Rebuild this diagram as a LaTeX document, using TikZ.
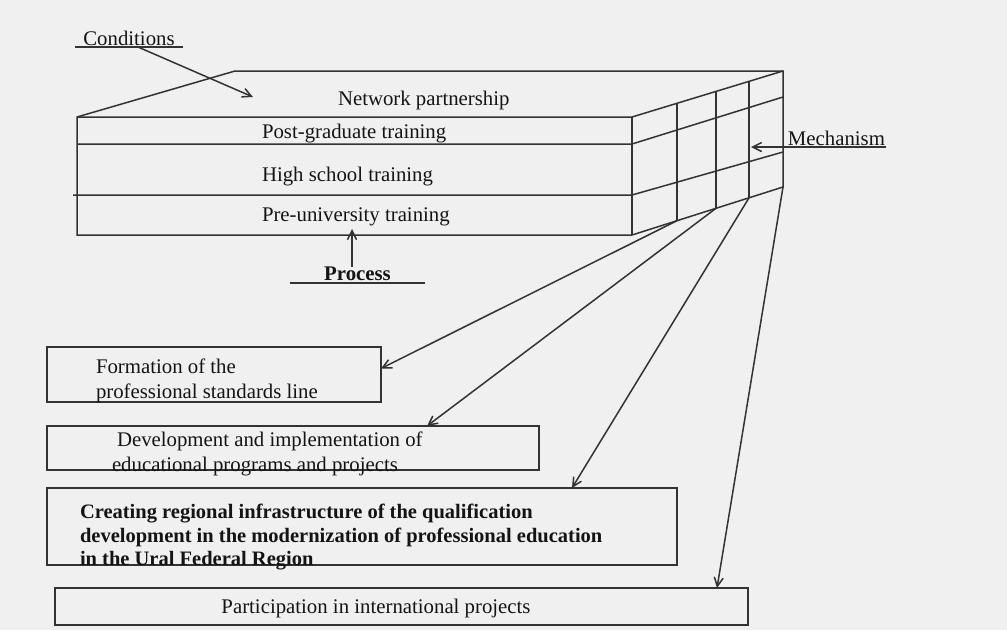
\documentclass[tikz,border=0pt]{standalone}
\usepackage{fontspec}
\setmainfont{Liberation Serif}
\usetikzlibrary{arrows.meta,calc}
\definecolor{bggray}{HTML}{F0F0F0}
\definecolor{linegray}{HTML}{333333}
\definecolor{inkgray}{HTML}{141414}

\begin{document}
\begin{tikzpicture}[x=1pt,y=-1pt,inner sep=0pt,outer sep=0pt,line width=1.5pt,
color=linegray,text=inkgray,>={Straight Barb[length=9pt,width=9pt]},
font=\fontsize{20.8}{25}\selectfont,
stagebox/.style={draw,rectangle,line width=2pt},
stagetext/.style={anchor=west,align=left}]
\fill[bggray] (0,0) rectangle (1007,630);
\coordinate (ftl) at (77,117);
\coordinate (ftr) at (632,117);
\coordinate (fbl) at (77,235);
\coordinate (fbr) at (632,235);
\coordinate (btl) at (235,71);
\coordinate (btr) at (783,71);
\coordinate (bbr) at (783,187);
\draw (fbl) -- (ftl) -- (btl) -- (btr) -- (bbr) -- (fbr) -- cycle;
\draw (ftl) -- (ftr) -- (btr);
\draw (ftr) -- (fbr);
\draw (77,144) -- (632,144) -- (783,97);
\draw (73,195) -- (632,195) -- (783,152);
\foreach \t/\n in {0.298/1,0.556/2,0.775/3}
  \draw ($(ftr)!\t!(btr)$) -- ($(fbr)!\t!(bbr)$) coordinate (foot\n);
\draw (338,100) node[anchor=west] (net) {Network partnership};
\draw (262,134) node[anchor=west] (post) {Post-graduate training};
\draw (262,177) node[anchor=west] (high) {High school training};
\draw (262,217) node[anchor=west] (pre) {Pre-university training};
\draw (75,47) -- node[above=1pt] (cond) {Conditions} (183,47);
\draw[->] (138,47) -- (253,97);
\draw (290,283) -- node[above=2.5pt] (proc) {\textbf{Process}} (425,283);
\draw[->] ([xshift=-5.5pt]proc.north) -- (352,229);
\draw[->] (886,147) node[above left=1pt] (mech) {Mechanism} -- (751,147);
\draw (214,374.5) node[stagebox,minimum width=334pt,minimum height=55pt] (form) {};
\draw (293,448) node[stagebox,minimum width=492pt,minimum height=44pt] (devel) {};
\draw (362,526.5) node[stagebox,minimum width=630pt,minimum height=77pt] (infra) {};
\draw (401.5,606.5) node[stagebox,minimum width=693pt,minimum height=37pt] (intl) {};
\draw (96,380.5) node[stagetext] (formtxt) {Formation of the\\professional standards line};
\draw (112,453.5) node[stagetext] (develtxt) {\hspace*{5pt}Development and implementation of\\educational programs and projects};
\draw (80,537.5) node[stagetext,font=\bfseries\fontsize{20.5}{23.5}\selectfont] (infratxt)
  {Creating regional infrastructure of the qualification\\development in the modernization of professional education\\in the Ural Federal Region};
\draw (376,608) node (intltxt) {Participation in international projects};
\draw[->] (foot1) -- ([yshift=6pt]form.east);
\draw[->] (foot2) -- ([xshift=134pt]devel.north);
\draw[->] (foot3) -- ([xshift=210pt]infra.north);
\draw[->] (bbr) -- ([xshift=315.5pt]intl.north);
\end{tikzpicture}
\end{document}
